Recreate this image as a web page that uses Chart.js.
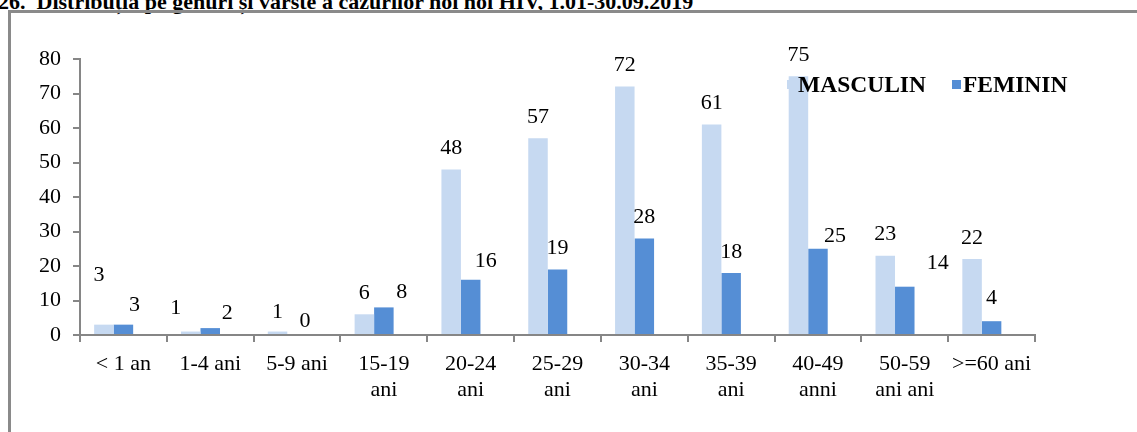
<!DOCTYPE html>
<html>
<head>
<meta charset="utf-8">
<script src="https://cdn.jsdelivr.net/npm/chart.js@4.4.0/dist/chart.umd.min.js"></script>
<style>
  html, body { margin: 0; padding: 0; background: #fff; overflow: hidden; }
  #wrap { position: relative; width: 1137px; height: 432px; }
  #titlu { position: absolute; left: -2px; top: -10px; font: bold 22px "Liberation Serif"; line-height: 24px; white-space: pre; color: #000; }
  #cadru { position: absolute; left: 8px; top: 10px; width: 1200px; height: 500px; border: 3px solid #8a8a8a; box-sizing: border-box; }
  #grafic { position: absolute; left: 0; top: 0; }
</style>
</head>
<body>
<div id="wrap">
  <div id="titlu">26.  Distribuția pe genuri și vârste a cazurilor noi noi HIV, 1.01-30.09.2019</div>
  <div id="cadru"></div>
  <canvas id="grafic" width="1137" height="432"></canvas>
</div>
<script>
// categorii de varsta (asa cum apar sub axa)
var categorii = ['< 1 an', '1-4 ani', '5-9 ani', ['15-19', 'ani'], ['20-24', 'ani'], ['25-29', 'ani'],
  ['30-34', 'ani'], ['35-39', 'ani'], ['40-49', 'anni'], ['50-59', 'ani ani'], '>=60 ani'];
// cazuri noi pe gen
var masculin = [3, 1, 1, 6, 48, 57, 72, 61, 75, 23, 22];
var feminin = [3, 2, 0, 8, 16, 19, 28, 18, 25, 14, 4];
// axa y
var y_min = 0;
var y_max = 80;
var y_pas = 10;

var font_serif = '"Liberation Serif", "Times New Roman", serif';
var gri_axa = '#868686';

// etichetele de date din original nu stau toate exact deasupra barelor
var spostamenti = [
  [[-5, 28], [-15, 2], [0, -2], [0, 0], [0, 0], [0, 0], [0, 0], [0, 0], [0, 0], [0, 0], [0, 0]],
  [[11, -2], [17, -6], [8, -7], [18, -6], [15, -2], [0, 0], [0, 0], [0, 0], [17, -8], [33, 2], [0, 2]]
];

var plugin_etichete = {
  id: 'etichete',
  afterDatasetsDraw: function(chart) {
    var ctx = chart.ctx;
    ctx.save();
    ctx.font = '22px ' + font_serif;
    ctx.fillStyle = '#000';
    ctx.textAlign = 'center';
    ctx.textBaseline = 'middle';
    for (var d = 0; d < 2; d++) {
      var meta = chart.getDatasetMeta(d);
      for (var i = 0; i < meta.data.length; i++) {
        var bara = meta.data[i];
        var sp = spostamenti[d][i];
        ctx.fillText(chart.data.datasets[d].data[i], bara.x + sp[0], bara.y - 21 - sp[1]);
      }
    }

    // legenda in dreapta sus, peste zona graficului
    var dr = chart.chartArea.right;
    var y = chart.chartArea.top + 26;
    var pozitii = [dr - 248, dr - 83];
    ctx.font = 'bold 23.5px ' + font_serif;
    ctx.textAlign = 'left';
    for (var k = 0; k < 2; k++) {
      var ds = chart.data.datasets[k];
      ctx.fillStyle = ds.backgroundColor;
      ctx.fillRect(pozitii[k], y - 5, 9, 9);
      ctx.fillStyle = '#000';
      ctx.fillText(ds.label, pozitii[k] + 11, y + 1);
    }
    ctx.restore();
  }
};

var ctx = document.getElementById('grafic').getContext('2d');
var chart = new Chart(ctx, {
  type: 'bar',
  data: {
    labels: categorii,
    datasets: [
      { label: 'MASCULIN', data: masculin, backgroundColor: '#c6d9f1' },
      { label: 'FEMININ', data: feminin, backgroundColor: '#558ed5' },
      // a treia serie goala, ca in Excel (perechea de bare e decalata spre stanga)
      { label: '', data: [], backgroundColor: 'rgba(0,0,0,0)' }
    ]
  },
  options: {
    responsive: false,
    animation: false,
    categoryPercentage: 0.674,
    barPercentage: 1,
    layout: { padding: { left: 0, right: 102, top: 59, bottom: 0 } },
    plugins: {
      legend: { display: false },
      tooltip: { enabled: false }
    },
    scales: {
      x: {
        grid: { drawOnChartArea: false, color: gri_axa, lineWidth: 2, tickLength: 7 },
        border: { color: gri_axa, width: 2 },
        ticks: { color: '#000', font: { family: font_serif, size: 22, lineHeight: 1.15 }, padding: 10, maxRotation: 0, autoSkip: false },
        afterFit: function(scale) { scale.height = 97; }
      },
      y: {
        min: y_min,
        max: y_max,
        grid: { drawOnChartArea: false, color: gri_axa, lineWidth: 2, tickLength: 7 },
        border: { color: gri_axa, width: 2 },
        ticks: { stepSize: y_pas, color: '#000', font: { family: font_serif, size: 22 }, padding: 12 },
        afterFit: function(scale) { scale.width = 80; }
      }
    }
  },
  plugins: [plugin_etichete]
});
</script>
</body>
</html>
